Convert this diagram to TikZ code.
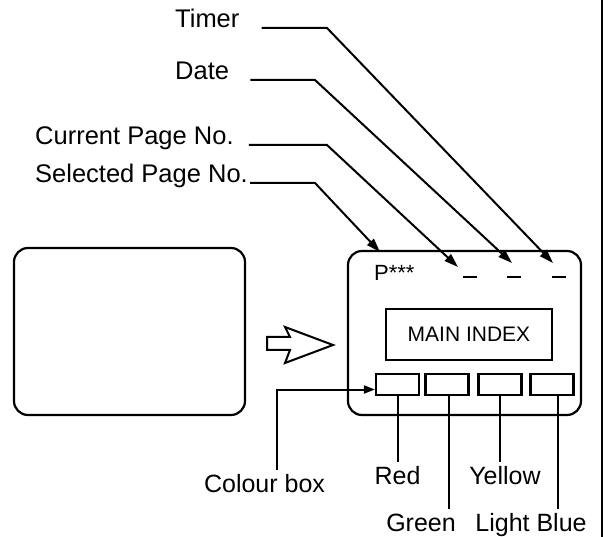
\documentclass[tikz,border=0pt]{standalone}
\usepackage{fontspec}
\setmainfont{Liberation Sans}
\usetikzlibrary{arrows.meta}
\begin{document}
\begin{tikzpicture}[x=1pt,y=-1pt,
    textlabel/.style={font=\fontsize{25.5}{30}\selectfont, inner sep=0pt, anchor=base west},
    colname/.style={font=\fontsize{25}{30}\selectfont, inner sep=4pt, anchor=base},
    colbox/.style={draw, line width=2.2pt, minimum width=43pt, minimum height=21pt, inner sep=0pt},
    leader/.style={line width=2pt, -{Triangle[length=14pt,width=9pt]}},
    stem/.style={line width=2pt}]
    \useasboundingbox (0,0) rectangle (608,537);
    % Screens
    \draw[line width=2.2pt, rounded corners=14pt] (14,248) rectangle (245,415);
    \draw[line width=2.2pt, rounded corners=14pt] (348,251) rectangle (581,415);
    % Hollow arrow
    \draw[line width=2pt, line join=miter] (267,337) -- (290,337) -- (285,327) -- (333,345)
        -- (285,363) -- (290,350) -- (267,350) -- cycle;
    % Right border
    \draw[line width=2.4pt] (602,0) -- (602,537);
    % Screen contents
    \node[font=\fontsize{22}{26}\selectfont, anchor=base west, inner sep=0pt] (page) at (374,281) {P***};
    \foreach \x in {463,507,552}
        \draw[line width=2pt] (\x,277) -- ++(14,0);
    \node[draw, line width=2.2pt, minimum width=166pt, minimum height=51pt,
        font=\fontsize{21}{24}\selectfont] (index) at (469,334.5) {MAIN INDEX};
    \node[colbox] (red box) at (397.5,384.5) {};
    \node[colbox] (green box) at (447,384.5) {};
    \node[colbox] (yellow box) at (500,384.5) {};
    \node[colbox] (blue box) at (552,384.5) {};
    % Upper labels
    \node[textlabel] (timer) at (175,28) {Timer};
    \node[textlabel] (date) at (175,80) {Date};
    \node[textlabel] (current) at (35,145) {Current Page No.};
    \node[textlabel] (selected) at (35,183) {Selected Page No.};
    \coordinate (timer bend) at (327,28);
    \coordinate (date bend) at (315,80);
    \coordinate (current bend) at (327,145);
    \coordinate (selected bend) at (315,183);
    \coordinate (timer end) at (553,263);
    \coordinate (date end) at (512,263);
    \coordinate (current end) at (458,267);
    \coordinate (selected end) at (380,252);
    \draw[leader] ([xshift=22pt]timer.base east) -- (timer bend) -- (timer end);
    \draw[leader] ([xshift=21pt]date.base east) -- (date bend) -- (date end);
    \draw[leader] ([xshift=15pt]current.base east) -- (current bend) -- (current end);
    \draw[leader] ([xshift=2pt]selected.base east) -- (selected bend) -- (selected end);
    % Lower labels
    \node[colname] (colour) at (264.5,492) {Colour box};
    \node[colname] (red) at (397.5,484) {Red};
    \node[colname] (yellow) at (505,484) {Yellow};
    \node[colname] (green) at (421,531) {Green};
    \node[colname] (blue) at (531,531) {Light Blue};
    \draw[stem, -{Triangle[length=11pt,width=8pt]}] ([xshift=12pt]colour.north) |- ([yshift=-5pt]red box.west);
    \draw[stem] (red box.south) -- (red box.south |- red.north);
    \draw[stem] ([xshift=2pt]green box.south) -- ([xshift=2pt]green box.south |- green.north);
    \draw[stem] (yellow box.south) -- (yellow box.south |- yellow.north);
    \draw[stem] ([xshift=6pt]blue box.south) -- ([xshift=6pt]blue box.south |- blue.north);
\end{tikzpicture}
\end{document}
